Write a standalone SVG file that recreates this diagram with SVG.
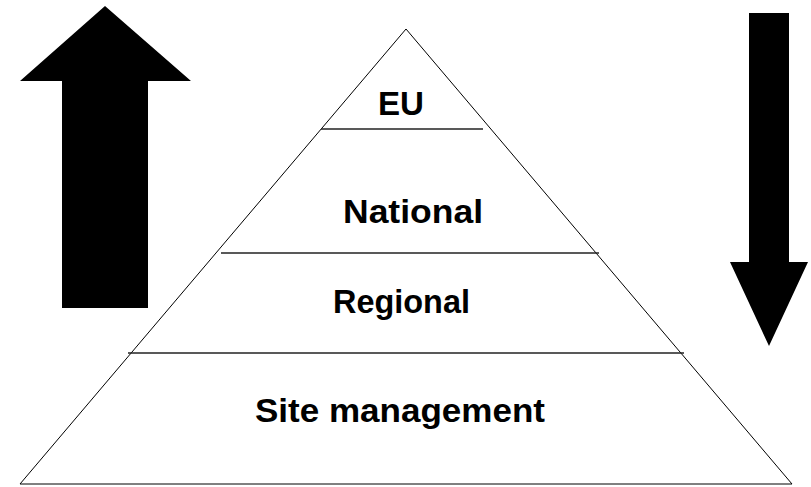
<svg xmlns="http://www.w3.org/2000/svg" width="811" height="487" viewBox="0 0 811 487">
<style>
.edge{fill:none;stroke:#000;stroke-width:1}
.sep{stroke:#222;stroke-width:1.5}
.arrow{fill:#000;stroke:none}
.lbl{font-family:"Liberation Sans",Arial,sans-serif;font-weight:bold;font-size:34px;fill:#000;text-anchor:middle}
</style>
<rect width="811" height="487" fill="#fff"/>
<g id="up-arrow"><polygon class="arrow" points="105,6 191,81 148,81 148,308 62,308 62,81 20,81"/></g>
<g id="down-arrow"><polygon class="arrow" points="749,13 789,13 789,262 808,262 769,346 730,262 749,262"/></g>
<g id="pyramid"><polygon class="edge" points="406,29 792,484 20,484"/></g>
<g id="eu"><line class="sep" x1="321" y1="129" x2="483" y2="129"/><text class="lbl" x="401" y="115" textLength="46" lengthAdjust="spacingAndGlyphs">EU</text></g>
<g id="national"><line class="sep" x1="221" y1="253" x2="599" y2="253"/><text class="lbl" x="413" y="223" textLength="140" lengthAdjust="spacingAndGlyphs">National</text></g>
<g id="regional"><line class="sep" x1="128" y1="353" x2="684" y2="353"/><text class="lbl" x="401.5" y="313" textLength="137" lengthAdjust="spacingAndGlyphs">Regional</text></g>
<g id="site-management"><text class="lbl" x="400" y="422" textLength="290" lengthAdjust="spacingAndGlyphs">Site management</text></g>
<g id="connectors"></g>
</svg>
